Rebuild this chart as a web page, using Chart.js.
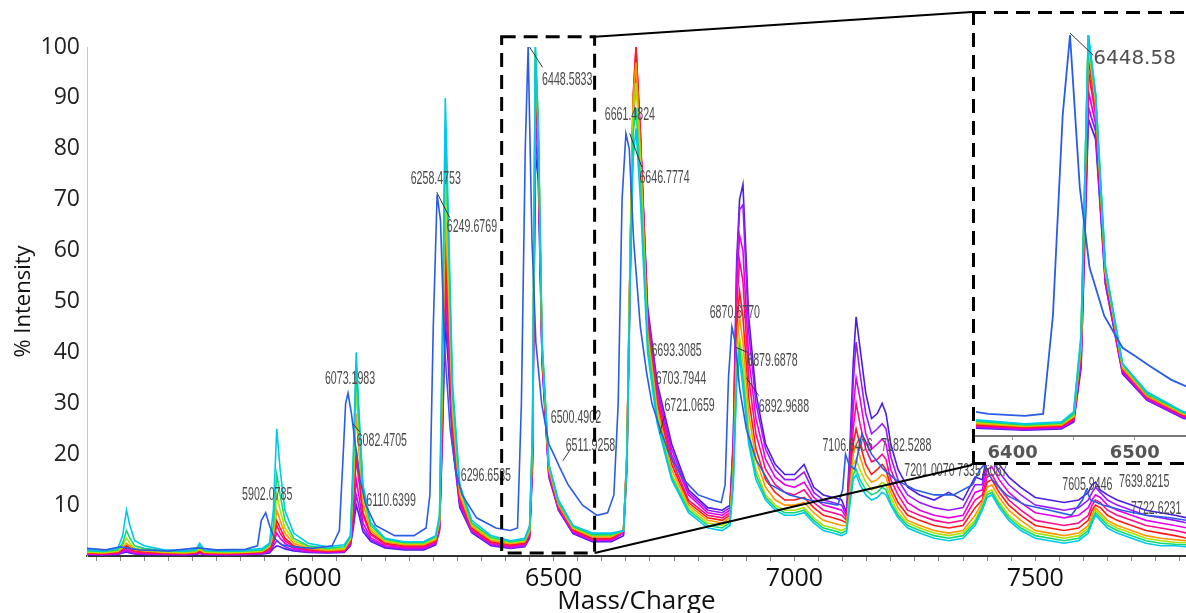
<!DOCTYPE html>
<html><head><meta charset="utf-8">
<script src="https://cdn.jsdelivr.net/npm/chart.js@4.4.1/dist/chart.umd.min.js"></script>
<style>
html,body{margin:0;padding:0;background:#fff;overflow:hidden;}
#wrap{position:relative;width:1186px;height:613px;}
#main{position:absolute;left:0;top:0;}
#inset{position:absolute;left:972px;top:11px;background:#fff;}
</style></head><body>
<div id="wrap"><canvas id="main" width="1186" height="613"></canvas><canvas id="inset" width="214" height="454"></canvas></div>
<script>
// ---- shared m/z grid of the rainbow spectra ----
const mz = [5530,5565,5595,5605,5613,5620,5630,5650,5690,5735,5757,5765,5775,5820,5860,5895,
 5910,5918,5925,5932,5942,5960,5990,6030,6065,
 6078,6084,6090,6096,6104,6120,6150,6190,6230,
 6255,6263,6269,6275,6281,6290,6305,6330,6370,6410,
 6440,6450,6456,6462,6468,6476,6490,6510,6540,6580,6620,
 6645,6652,6659,6665,6671,6680,6695,6715,6745,6780,6820,6850,
 6866,6873,6880,6886,6893,6905,6920,6940,6960,6980,7000,7020,7040,7060,7080,7098,
 7108,7115,7122,7128,7136,7148,7160,7172,7182,7190,7200,7215,7235,7260,7290,7320,7350,7375,
 7390,7400,7410,7425,7445,7470,7500,7530,7560,7590,7610,
 7618,7625,7635,7650,7670,7700,7730,7760,7790,7815];

const cyanI = [1.2,1.0,1.5,4,9,6,3,2,1.2,1,1.3,2.5,1.2,1,1.1,1.5,
 2.5,9,25,17,9,4.5,2.5,1.8,2.2,
 4,20,40,28,14,6.5,3.5,2.8,2.8,
 4,8,45,90,68,34,14,7,4,3,
 3.5,6,25,100,85,42,18,11,6,4.5,4.5,
 5,18,55,78,84,70,40,26,15,8.5,5.5,5,
 6,14,34,39,33,22,15,11,9,8,8,8.5,6.5,5,4.5,4,
 4.5,10,15,16,14,12,11,11.5,12.5,12,10,7.5,5.5,4.5,3.5,3,3.5,6,
 9,11.5,12,9.5,7,5,3.5,3,2.5,3,4.5,
 6.5,8,7,5.5,4.5,3.5,2.5,2,2,1.8];

const greenI = [1.0,0.9,1.2,2.5,5,3.5,2,1.5,1,0.9,1.1,2,1,0.9,1,1.2,
 2.2,6,16,12,7,3.5,2,1.5,1.8,
 3.8,18,37,26,13,6,3.3,2.6,2.6,
 3.8,7.5,42,84,64,32,13.5,6.5,3.7,2.8,
 3.2,5.5,24,100,85,42,18,10.5,5.8,4.2,4.2,
 5,19,58,83,88,74,42,27,15.5,9,6,5.5,
 6.5,15,36,41,35,23,16,11.5,9.5,8.5,8.5,9,7,5.5,5,4.5,
 5,11,16,17,15,13,12,12.5,13.5,13,10.5,8,6,5,4,3.5,4,6.5,
 9.5,12,12.5,10,7.5,5.5,4,3.5,3,3.5,5,
 7,8.5,7.5,6,5,4,3,2.5,2.3,2.2];

const limeI = [0.8,0.7,1,2,3.5,2.5,1.5,1.2,0.8,0.7,0.9,1.5,0.8,0.7,0.8,1,
 2,5,12,9,5.5,3,1.8,1.3,1.5,
 3.5,16,33,23.5,12,5.5,3,2.4,2.4,
 3.5,7,38,76,58,30,13,6.2,3.4,2.6,
 3,5,23,99,84,41,17.5,10.5,5.6,4,4,
 5,20,60,87,93,78,43,28,16,9.5,6.5,6,
 7,16,38,43,38,25,17,12,10,9,9,9.5,7.5,6,5.5,5,
 5.5,12,18,19,17,14.5,13,13.5,14.5,14,11.5,8.5,6.5,5.5,4.5,4,4.5,7,
 10,12.5,13,10.5,8,6,4.5,4,3.5,4,5.5,
 7.5,9,8,6.5,5.5,4.5,3.5,3,2.7,2.6];

const orangeI = [0.7,0.6,0.9,1.6,2.5,2,1.2,1,0.7,0.6,0.8,1.2,0.7,0.6,0.7,0.9,
 1.8,4,9,7,4.5,2.5,1.5,1.1,1.3,
 3.2,14,28,20,10.5,5,2.8,2.2,2.2,
 3.2,6.5,34,68,53,28,12,5.8,3.1,2.4,
 2.8,4.8,22,97,83,41,17,10,5.4,3.8,3.8,
 5,20,61,90,97,80,44,29,17,10,7,6.5,
 7.5,17,41,47,42,28,19,13.5,11,10,10,10.5,8.5,7,6.5,6,
 6,13,20,22,19.5,16,14.5,15,16,15.5,12.5,9.5,7,6,5,4.5,5,8,
 10.5,13.5,14,11.5,9,7,5,4.5,4,4.5,6,
 8,9.5,8.5,7,6,5,4,3.5,3.2,3];

const redI = [0.6,0.5,0.8,1.4,2,1.6,1,0.8,0.6,0.5,0.7,1,0.6,0.5,0.6,0.8,
 1.5,3.5,7,5.5,3.5,2,1.3,1,1.2,
 3,11,21,16,8.5,4.5,2.5,2,2,
 3,6,31,62,49,26,11.5,5.5,2.8,2.2,
 2.6,4.5,21,94,82,40,17,10,5.2,3.5,3.5,
 5,20,60,90,100,82,45,30,18,10.5,7.5,7,
 8,19,45,52,47,31,21,15,12.5,11,11,11.5,9.5,8,7.5,7,
 6.5,14,22,25,22,18,16,17,18,17,13.5,10.5,8,7,6,5.5,6,9.5,
 11,14.5,15,12.5,10,8,6,5.5,5,5.5,7,
 9,10,9.5,8,7,6,5,4.5,4,3.5];

const pinkI = [0.5,0.4,0.6,1.2,1.5,1.3,0.8,0.6,0.5,0.4,0.6,0.8,0.5,0.4,0.5,0.7,
 1.2,3,6,4.5,3,1.8,1.1,0.9,1,
 2.8,10,19,14.5,8,4.2,2.3,1.8,1.8,
 2.8,5.8,29,58,46,25,11,5.2,2.6,2,
 2.4,4.2,20,91,80,40,16.5,9.5,5,3.3,3.3,
 5,20,60,90,100,83,46,31,19,11,8,7.5,
 8.5,20,49,58,54,35,24,17,14,12.5,12,13,10.5,9,8.5,8,
 7,15,25,30,26,21,18.5,19,20,19,15,12,9,8,7,6.5,7,11,
 12,15.5,16,13.5,11,9,7,6.5,6,6.5,8,
 10,11,10.5,9,8,7,6,5.5,5,4.5];

const magentaI = [0.4,0.3,0.5,1,1.2,1,0.6,0.5,0.4,0.3,0.5,0.7,0.4,0.3,0.4,0.6,
 1,2.5,4.5,3.5,2.5,1.5,1,0.8,0.9,
 2.5,8,15,11.5,6.5,3.6,2,1.6,1.6,
 2.6,5.5,27,54,44,24,10.5,5,2.4,1.8,
 2.2,4,19,86,78,39,16,9.5,4.8,3.1,3.1,
 4.5,19,58,88,99,83,47,32,20,12,8.5,8,
 9,21,53,63,60,39,27,19,15.5,14,13.5,14.5,11.5,10,9.5,9,
 7.5,17,29,35,31,24,21,22,23,22,17,13.5,10.5,9,8,7.5,8,12.5,
 13,17,17.5,15,12.5,10.5,8.5,8,7.5,8,9.5,
 11,12,11.5,10,9,8,7,6.5,6,5.5];

const violetI = [0.3,0.3,0.4,0.8,1,0.8,0.5,0.4,0.3,0.3,0.4,0.6,0.3,0.3,0.3,0.5,
 0.8,2,3,2.5,1.8,1.2,0.8,0.7,0.8,
 2.2,6.5,12,9.5,5.5,3.2,1.8,1.4,1.4,
 2.4,5.2,25,50,41,23,10,4.8,2.2,1.6,
 2,3.8,18,82,76,38,16,9,4.6,3,3,
 4.5,18,56,86,97,83,48,33,21,12.5,9,8.5,
 9.5,22,56,68,69,44,30,21,17,15,15,16.5,12.5,11,10.5,10,
 8,19,34,42,36,28,24,25,26,25,19.5,15,12,10.5,9.5,9,9.5,14,
 14,18.5,19,16.5,14,12,10,9.5,9,9.5,11,
 12.5,13.5,12.5,11,10,9,8,7.5,7,6.5];

const indigoI = [0.3,0.2,0.3,0.6,0.8,0.6,0.4,0.3,0.3,0.2,0.3,0.5,0.3,0.2,0.3,0.4,
 0.6,1.5,2,1.8,1.4,1,0.7,0.6,0.7,
 2,5.5,10,8,4.8,2.9,1.6,1.2,1.2,
 2.2,5,23,46,38,22,9.5,4.6,2,1.5,
 1.8,3.5,17,79,74,38,15.5,9,4.4,2.8,2.8,
 4,17,54,84,95,82,49,34,22,13,9.5,9,
 10,23,58,70,73,47,32,22,18,16,16,18,13.5,12,11.5,11,
 8.5,21,38,47,41,32,27,28,30,28,22,17,13.5,12,11,12.5,11,15.5,
 15,20,20.5,18,15.5,13.5,11.5,11,10.5,11,12.5,
 14,14.5,13,12,11,10,9,8.5,8,7.5];

// ---- the mass-shifted (blue) spectrum ----
const blueMz = [5530,5570,5600,5640,5700,5760,5800,5860,5885,5893,
 5902,5910,5920,5935,5960,6000,6040,6055,6063,6068,
 6073,6080,6088,6098,6110,6130,6170,6210,6235,6243,
 6250,6258,6265,6273,6285,6296,6310,6340,6380,6410,
 6425,6433,6441,6447,6455,6463,6475,6490,6500,6512,
 6530,6560,6590,6612,6625,6634,6642,6650,6657,6666,
 6680,6693,6704,6721,6740,6770,6800,6830,6848,6856,
 6863,6870,6877,6886,6900,6920,6950,6990,7030,7060,
 7090,7100,7106,7113,7125,7140,7160,7185,7210,7250,
 7290,7330,7370,7385,7395,7410,7440,7480,7530,7575,
 7598,7606,7615,7640,7680,7730,7780,7815];
const blueI = [1.5,1.2,1.8,1.2,1,1.6,1.2,1.3,2,7,
 8.5,6,3.5,2.2,1.8,1.5,2,5,20,30,
 32,28,22,15,10,6,4,4,5.5,12,
 45,71,66,42,25,17,12,7.5,5.5,5,
 5.5,30,80,100,62,42,30,22,20,17.5,
 14,10,8,8.5,12,30,70,83,80,62,
 45,36,30,25,20,15,12,11,10.5,14,
 35,45,42,33,25,19,14,12,11,10.5,
 10,13,20,18,17,24,20,17,15,13,
 12,12,14,17,18,15,12,10,9,8,
 11,13,11,10,9,8,7.5,7];

// ---- axis ticks ----
const yTicks = [10,20,30,40,50,60,70,80,90,100];
const xMajor = [6000,6500,7000,7500];
const insetMajor = [6400,6500];

// ---- peak annotations (text, anchor m/z, anchor % intensity) ----
const peakLabels = ["5902.0785","6073.1983","6082.4705","6110.6399","6258.4753","6249.6769","6296.6535",
 "6448.5833","6500.4902","6511.9258","6661.4824","6646.7774","6693.3085","6703.7944","6721.0659",
 "6870.6770","6879.6878","6892.9688","7106.6406","7182.5288","7201.0070","7335.6087",
 "7605.9446","7639.8215","7722.6231"];
const labelMz = [5853,6025,6091,6111,6203,6278,6307,
 6476,6494,6525,6606,6678,6703,6712,6730,
 6824,6902,6926,7058,7180,7228,7338,
 7556,7674,7699];
const labelInt = [12.0,34.8,22.6,10.8,74.2,64.6,15.7,
 93.5,27.2,21.7,86.6,74.4,40.4,34.8,29.5,
 47.8,38.3,29.3,21.7,21.7,16.7,16.7,
 14.0,14.6,9.3];
const leaders = [[6450,100,6477,96],[6257,71.5,6284,66.5],[6658,83,6683,76.4],[6083,26,6097,24.4],
 [6519,18.7,6533,20.7],[6720,24,6730,27.5],[6900,35,6926,31.5],[6878,41,6903,40]];
const zoomBox = [6392,6585,0.6,102];
const insetPeak = {text:"6448.58", from:[6447,100.5], to:[6466,95], at:[6466,94]};

const series = [
  ['#2a5ce4', blueMz, blueI],
  ['#00c8ea', mz, cyanI],
  ['#10d878', mz, greenI],
  ['#b0e000', mz, limeI],
  ['#ff9800', mz, orangeI],
  ['#ff1a1a', mz, redI],
  ['#ff0a8c', mz, pinkI],
  ['#e600e6', mz, magentaI],
  ['#9a1aff', mz, violetI],
  ['#4b1ee6', mz, indigoI]
];
function makeDatasets(w){
  return series.map(s => ({
    data: s[1].map((x,i)=>({x:x, y:s[2][i]})),
    borderColor: s[0], borderWidth: w, pointRadius: 0, tension: 0, fill:false
  }));
}

const mainDecor = {
  id:'mainDecor',
  afterDatasetsDraw(chart){
    const {ctx, scales:{x,y}} = chart;
    ctx.save();
    ctx.strokeStyle = '#333'; ctx.lineWidth = 1;
    leaders.forEach(l=>{
      ctx.beginPath();
      ctx.moveTo(x.getPixelForValue(l[0]), y.getPixelForValue(l[1]));
      ctx.lineTo(x.getPixelForValue(l[2]), y.getPixelForValue(l[3]));
      ctx.stroke();
    });
    ctx.fillStyle = '#4a4a4a';
    ctx.font = '19px "Liberation Sans", Arial, sans-serif';
    ctx.textBaseline = 'middle'; ctx.textAlign = 'left';
    peakLabels.forEach((t,i)=>{
      ctx.save();
      ctx.translate(x.getPixelForValue(labelMz[i]), y.getPixelForValue(labelInt[i]));
      ctx.scale(0.56,1);
      ctx.fillText(t,0,0);
      ctx.restore();
    });
    const bx1 = x.getPixelForValue(zoomBox[0]), bx2 = x.getPixelForValue(zoomBox[1]);
    const byTop = y.getPixelForValue(zoomBox[3]), byBot = y.getPixelForValue(zoomBox[2]);
    ctx.strokeStyle = '#000'; ctx.lineWidth = 3; ctx.setLineDash([14,8]);
    ctx.strokeRect(bx1, byTop, bx2-bx1, byBot-byTop);
    ctx.setLineDash([]); ctx.lineWidth = 2;
    ctx.beginPath();
    ctx.moveTo(bx2, byTop); ctx.lineTo(972, 12);
    ctx.moveTo(bx2, byBot); ctx.lineTo(972, 465);
    ctx.stroke();
    ctx.restore();
  }
};

new Chart(document.getElementById('main'), {
  type:'line',
  data:{datasets: makeDatasets(1.6)},
  options:{
    responsive:false, animation:false, devicePixelRatio:1,
    layout:{padding:{top:47,left:0,right:0,bottom:0}},
    plugins:{legend:{display:false}, tooltip:{enabled:false}},
    scales:{
      x:{type:'linear', min:5531, max:7813,
        ticks:{stepSize:50, includeBounds:false, autoSkip:false, maxRotation:0, minRotation:0,
          color:'#111', font:{family:'"Open Sans", sans-serif', size:25}, padding:3,
          callback:v=> xMajor.includes(v) ? String(v) : ''},
        grid:{display:true, drawOnChartArea:false, drawTicks:true, tickLength:5, color:'#888'},
        border:{display:true, color:'#333', width:2},
        title:{display:true, text:'Mass/Charge', color:'#111',
          font:{family:'"Open Sans", sans-serif', size:26, lineHeight:0.85}, padding:0},
        afterFit:s=>{s.height=57;}
      },
      y:{min:0, max:100,
        ticks:{stepSize:10, color:'#222', font:{family:'"Open Sans", sans-serif', size:23}, padding:7,
          callback:v=> yTicks.includes(v) ? String(v) : ''},
        grid:{display:false, drawTicks:false},
        border:{display:true, color:'#c8c8c8', width:1},
        title:{display:true, text:'% Intensity', color:'#111',
          font:{family:'"Open Sans", sans-serif', size:22, lineHeight:1.2}, padding:{top:11,bottom:0}},
        afterFit:s=>{s.width=87;}
      }
    }
  },
  plugins:[mainDecor]
});

const insetDecor = {
  id:'insetDecor',
  afterDraw(chart){
    const {ctx, scales:{x,y}} = chart;
    const W = chart.width, H = chart.height;
    ctx.save();
    ctx.strokeStyle = '#333'; ctx.lineWidth = 1;
    ctx.beginPath();
    ctx.moveTo(x.getPixelForValue(insetPeak.from[0]), y.getPixelForValue(insetPeak.from[1]));
    ctx.lineTo(x.getPixelForValue(insetPeak.to[0]), y.getPixelForValue(insetPeak.to[1]));
    ctx.stroke();
    ctx.fillStyle = '#505050';
    ctx.font = '20px "DejaVu Sans", sans-serif';
    ctx.textBaseline = 'middle'; ctx.textAlign = 'left';
    ctx.fillText(insetPeak.text, x.getPixelForValue(insetPeak.at[0]), y.getPixelForValue(insetPeak.at[1]));
    ctx.strokeStyle = '#000'; ctx.lineWidth = 3; ctx.setLineDash([14,8]);
    ctx.beginPath(); ctx.moveTo(0,1.5); ctx.lineTo(W,1.5); ctx.stroke();
    ctx.beginPath(); ctx.moveTo(1.5,0); ctx.lineTo(1.5,H); ctx.stroke();
    ctx.beginPath(); ctx.moveTo(0,H-1.5); ctx.lineTo(W,H-1.5); ctx.stroke();
    ctx.restore();
  }
};

new Chart(document.getElementById('inset'), {
  type:'line',
  data:{datasets: makeDatasets(1.8)},
  options:{
    responsive:false, animation:false, devicePixelRatio:1,
    layout:{padding:{top:4,left:4,right:0,bottom:0}},
    plugins:{legend:{display:false}, tooltip:{enabled:false}},
    scales:{
      x:{type:'linear', min:6370, max:6542,
        ticks:{stepSize:50, includeBounds:false, autoSkip:false, maxRotation:0, minRotation:0,
          color:'#555', font:{family:'"DejaVu Sans", sans-serif', size:18, weight:'bold'}, padding:3,
          callback:v=> insetMajor.includes(v) ? String(v) : ''},
        grid:{display:true, drawOnChartArea:false, drawTicks:true, tickLength:4, color:'#999'},
        border:{display:true, color:'#777', width:2},
        afterFit:s=>{s.height=29;}
      },
      y:{display:false, min:0, max:105}
    }
  },
  plugins:[insetDecor]
});
</script>
</body></html>
